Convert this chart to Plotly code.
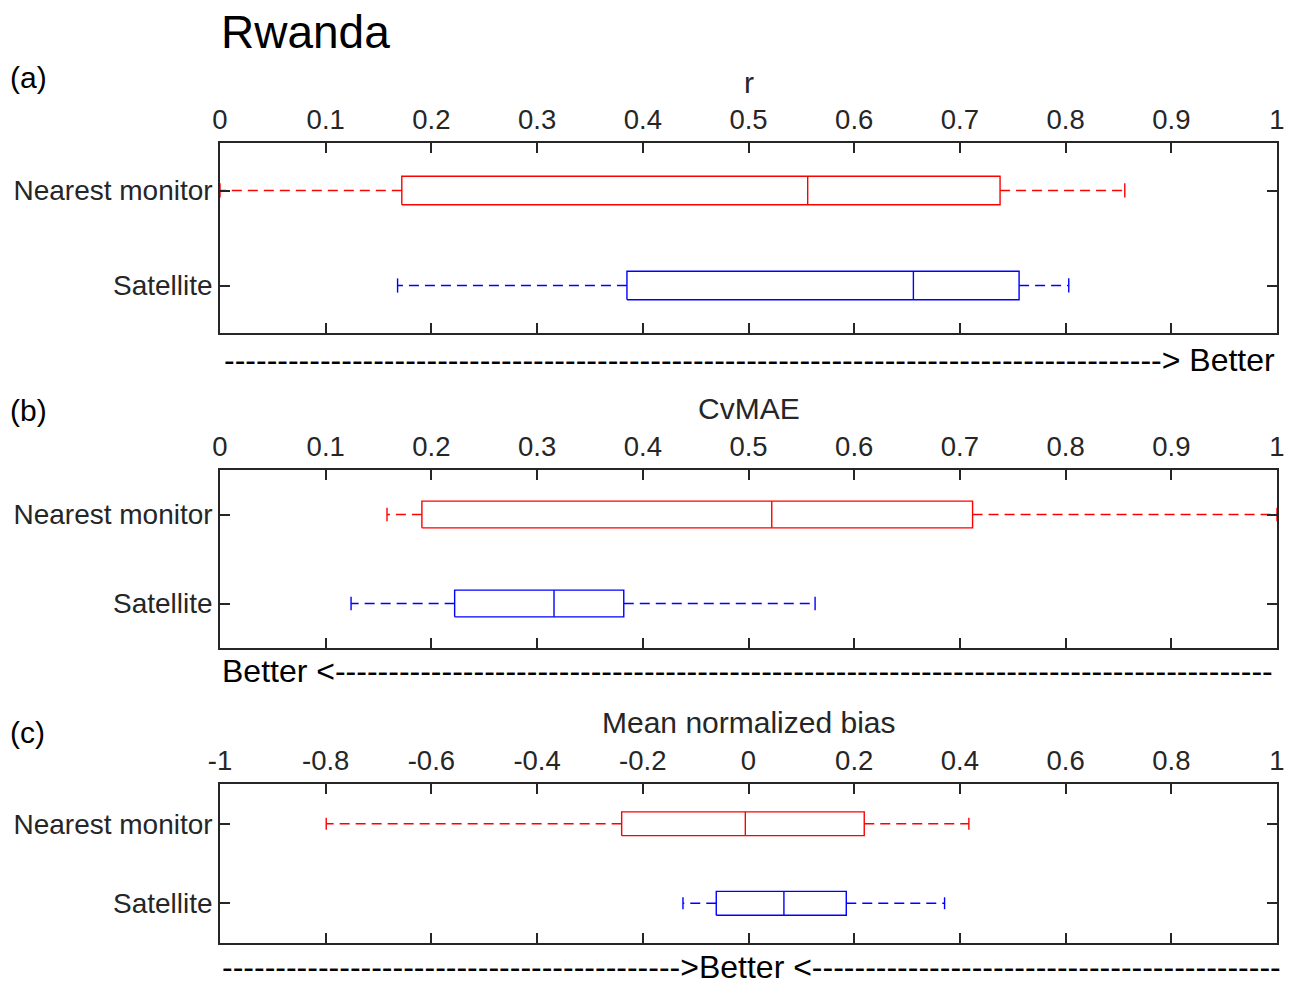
import plotly.graph_objects as go

# groups, top row first
groups = ["Nearest monitor", "Satellite"]
group_pos = [2, 1]
colors = ["#ff0000", "#0000ff"]

# (a) r
r_low = [0.0, 0.168]
r_q1 = [0.172, 0.385]
r_med = [0.556, 0.656]
r_q3 = [0.738, 0.756]
r_high = [0.856, 0.803]

# (b) CvMAE
cv_low = [0.158, 0.124]
cv_q1 = [0.191, 0.222]
cv_med = [0.522, 0.316]
cv_q3 = [0.712, 0.382]
cv_high = [1.0, 0.563]

# (c) Mean normalized bias
mnb_low = [-0.799, -0.124]
mnb_q1 = [-0.240, -0.061]
mnb_med = [-0.006, 0.067]
mnb_q3 = [0.219, 0.185]
mnb_high = [0.417, 0.371]

tick_01 = [0, 0.1, 0.2, 0.3, 0.4, 0.5, 0.6, 0.7, 0.8, 0.9, 1]
tick_01_text = ["0", "0.1", "0.2", "0.3", "0.4", "0.5", "0.6", "0.7", "0.8", "0.9", "1"]
tick_11 = [-1, -0.8, -0.6, -0.4, -0.2, 0, 0.2, 0.4, 0.6, 0.8, 1]
tick_11_text = ["-1", "-0.8", "-0.6", "-0.4", "-0.2", "0", "0.2", "0.4", "0.6", "0.8", "1"]

panels = [
    dict(label="(a)", title="r", stats=(r_low, r_q1, r_med, r_q3, r_high),
         rng=[0, 1], tv=tick_01, tt=tick_01_text),
    dict(label="(b)", title="CvMAE", stats=(cv_low, cv_q1, cv_med, cv_q3, cv_high),
         rng=[0, 1], tv=tick_01, tt=tick_01_text),
    dict(label="(c)", title="Mean normalized bias", stats=(mnb_low, mnb_q1, mnb_med, mnb_q3, mnb_high),
         rng=[-1, 1], tv=tick_11, tt=tick_11_text),
]

# page body has an 8px margin, so the figure is a bit smaller than the window
OFF = 8
W, H = 1293 - 2 * OFF, 993 - 2 * OFF
X0, X1 = 220, 1277
# screen pixel top/bottom of each axes box
boxes_px = [(143, 333), (470, 648), (784, 943)]

BOX_H = 0.15
CAP_H = 0.075
FONT = "Liberation Sans, Arial, sans-serif"
AX = "#262626"


def px_x(p):
    return (p - OFF) / W


def px_y(p):
    return 1 - (p - OFF) / H


fig = go.Figure()

for k, pan in enumerate(panels):
    xa = "x" if k == 0 else "x%d" % (k + 1)
    ya = "y" if k == 0 else "y%d" % (k + 1)
    low, q1, med, q3, high = pan["stats"]
    for i in range(len(groups)):
        y = group_pos[i]
        c = colors[i]
        # whiskers
        fig.add_trace(go.Scatter(
            x=[q1[i], low[i], None, q3[i], high[i]],
            y=[y, y, None, y, y],
            mode="lines", line=dict(color=c, width=1.4, dash="10px,6px"),
            xaxis=xa, yaxis=ya, showlegend=False, hoverinfo="skip"))
        # caps
        fig.add_trace(go.Scatter(
            x=[low[i], low[i], None, high[i], high[i]],
            y=[y - CAP_H, y + CAP_H, None, y - CAP_H, y + CAP_H],
            mode="lines", line=dict(color=c, width=1.4),
            xaxis=xa, yaxis=ya, showlegend=False, hoverinfo="skip"))
        # box + median
        fig.add_trace(go.Scatter(
            x=[q1[i], q3[i], q3[i], q1[i], q1[i], None, med[i], med[i]],
            y=[y - BOX_H, y - BOX_H, y + BOX_H, y + BOX_H, y - BOX_H, None, y - BOX_H, y + BOX_H],
            mode="lines", line=dict(color=c, width=1.4),
            xaxis=xa, yaxis=ya, showlegend=False, hoverinfo="skip"))

    top, bot = boxes_px[k]
    sfx = "" if k == 0 else str(k + 1)
    fig.update_layout({
        "xaxis" + sfx: dict(
            domain=[px_x(X0), px_x(X1)], anchor=ya, side="top", range=pan["rng"],
            tickvals=pan["tv"], ticktext=pan["tt"], ticks="inside", ticklen=10,
            tickwidth=1.5, tickcolor=AX, showline=True, linecolor=AX, linewidth=1.5,
            mirror="ticks", showgrid=False, zeroline=False, ticklabelstandoff=1,
            automargin=False, tickfont=dict(family=FONT, size=27.5, color=AX)),
        "yaxis" + sfx: dict(
            domain=[px_y(bot), px_y(top)], anchor=xa, range=[0.5, 2.5],
            tickvals=group_pos, ticktext=groups, ticks="inside", ticklen=10,
            tickwidth=1.5, tickcolor=AX, showline=True, linecolor=AX, linewidth=1.5,
            mirror="ticks", showgrid=False, zeroline=False, ticklabelstandoff=0,
            automargin=False, tickfont=dict(family=FONT, size=28, color=AX)),
    })

ann = []
ann.append(dict(text="Rwanda", x=px_x(219), y=px_y(32), xanchor="left", yanchor="middle",
                font=dict(family=FONT, size=46, color="black")))
label_y = [78, 410, 732]
title_y = [83, 408, 722]
for k, pan in enumerate(panels):
    ann.append(dict(text=pan["label"], x=px_x(8), y=px_y(label_y[k]), xanchor="left", yanchor="middle",
                    font=dict(family=FONT, size=30, color="black")))
    ann.append(dict(text=pan["title"], x=px_x((X0 + X1) / 2), y=px_y(title_y[k]), xanchor="center",
                    yanchor="middle", font=dict(family=FONT, size=30, color=AX)))

ann.append(dict(text="-" * 88 + "> Better", x=px_x(X1), y=px_y(360), xanchor="right", yanchor="middle",
                font=dict(family=FONT, size=32, color="black")))
ann.append(dict(text="Better <" + "-" * 88, x=px_x(X0), y=px_y(671), xanchor="left", yanchor="middle",
                font=dict(family=FONT, size=32, color="black")))
ann.append(dict(text="-" * 43 + ">Better <" + "-" * 44, x=px_x(X0), y=px_y(967), xanchor="left",
                yanchor="middle", font=dict(family=FONT, size=32, color="black")))
for a in ann:
    a.update(xref="paper", yref="paper", showarrow=False)

fig.update_layout(
    width=W, height=H, margin=dict(l=0, r=0, t=0, b=0),
    paper_bgcolor="white", plot_bgcolor="white",
    annotations=ann, showlegend=False,
)

fig.write_html("out.html")
